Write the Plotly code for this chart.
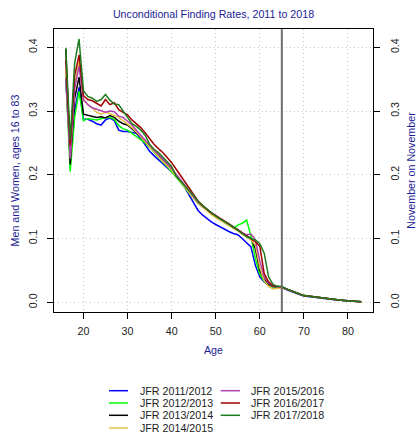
import plotly.graph_objects as go

# ---------------- data ----------------
ages = list(range(16, 84))

series_names = ["JFR 2011/2012", "JFR 2012/2013", "JFR 2013/2014", "JFR 2014/2015",
                "JFR 2015/2016", "JFR 2016/2017", "JFR 2017/2018"]

jfr_2011_2012 = [
    0.350, 0.230, 0.300, 0.337, 0.287, 0.287, 0.284, 0.280, 0.278, 0.286,
    0.289, 0.285, 0.270, 0.268, 0.268, 0.266, 0.265, 0.257, 0.247, 0.237,
    0.230, 0.224, 0.218, 0.211, 0.205, 0.198, 0.190, 0.180, 0.168, 0.156,
    0.144, 0.137, 0.131, 0.126, 0.122, 0.118, 0.114, 0.111, 0.108, 0.106,
    0.100, 0.094, 0.087, 0.058, 0.040, 0.032, 0.027, 0.024, 0.023, 0.023,
    0.020, 0.017, 0.015, 0.012, 0.010, 0.009, 0.008, 0.007, 0.006, 0.0055,
    0.005, 0.004, 0.0035, 0.003, 0.0024, 0.0018, 0.0012, 0.0008]

jfr_2012_2013 = [
    0.355, 0.205, 0.290, 0.331, 0.285, 0.288, 0.287, 0.286, 0.288, 0.290,
    0.290, 0.287, 0.277, 0.272, 0.270, 0.265, 0.260, 0.255, 0.250, 0.243,
    0.235, 0.228, 0.220, 0.213, 0.205, 0.197, 0.189, 0.180, 0.171, 0.163,
    0.155, 0.150, 0.144, 0.139, 0.134, 0.130, 0.126, 0.121, 0.116, 0.121,
    0.124, 0.129, 0.104, 0.068, 0.044, 0.033, 0.027, 0.024, 0.024, 0.024,
    0.021, 0.018, 0.015, 0.013, 0.0105, 0.0095, 0.0085, 0.0075, 0.0065, 0.0058,
    0.005, 0.0043, 0.0036, 0.003, 0.0024, 0.0018, 0.0012, 0.0008]

jfr_2013_2014 = [
    0.398, 0.216, 0.320, 0.353, 0.295, 0.293, 0.292, 0.290, 0.291, 0.289,
    0.293, 0.290, 0.284, 0.280, 0.278, 0.272, 0.266, 0.260, 0.252, 0.245,
    0.238, 0.231, 0.224, 0.216, 0.209, 0.200, 0.191, 0.182, 0.173, 0.165,
    0.157, 0.150, 0.145, 0.140, 0.135, 0.131, 0.127, 0.123, 0.119, 0.114,
    0.109, 0.104, 0.100, 0.084, 0.050, 0.036, 0.028, 0.025, 0.024, 0.024,
    0.021, 0.018, 0.015, 0.013, 0.0105, 0.0095, 0.0085, 0.0075, 0.0065, 0.0058,
    0.005, 0.0043, 0.0036, 0.003, 0.0024, 0.0018, 0.0012, 0.0008]

jfr_2014_2015 = [
    0.365, 0.228, 0.340, 0.378, 0.317, 0.310, 0.305, 0.298, 0.295, 0.298,
    0.296, 0.293, 0.290, 0.285, 0.280, 0.274, 0.267, 0.260, 0.252, 0.244,
    0.236, 0.228, 0.221, 0.214, 0.207, 0.198, 0.189, 0.180, 0.171, 0.163,
    0.155, 0.149, 0.143, 0.138, 0.133, 0.129, 0.125, 0.121, 0.117, 0.112,
    0.107, 0.103, 0.098, 0.090, 0.055, 0.034, 0.025, 0.021, 0.022, 0.023,
    0.021, 0.018, 0.015, 0.013, 0.0105, 0.0095, 0.0085, 0.0075, 0.0065, 0.0058,
    0.005, 0.0043, 0.0036, 0.003, 0.0024, 0.0018, 0.0012, 0.0008]

jfr_2015_2016 = [
    0.352, 0.225, 0.335, 0.370, 0.318, 0.310, 0.305, 0.303, 0.300, 0.298,
    0.300, 0.299, 0.292, 0.290, 0.284, 0.278, 0.270, 0.262, 0.255, 0.247,
    0.239, 0.232, 0.225, 0.218, 0.210, 0.201, 0.192, 0.183, 0.174, 0.165,
    0.157, 0.151, 0.146, 0.140, 0.135, 0.131, 0.127, 0.123, 0.118, 0.113,
    0.108, 0.106, 0.107, 0.098, 0.065, 0.040, 0.030, 0.025, 0.024, 0.024,
    0.021, 0.018, 0.015, 0.013, 0.0105, 0.0095, 0.0085, 0.0075, 0.0065, 0.0058,
    0.005, 0.0043, 0.0036, 0.003, 0.0024, 0.0018, 0.0012, 0.0008]

jfr_2016_2017 = [
    0.380, 0.246, 0.355, 0.388, 0.324, 0.318, 0.316, 0.312, 0.308, 0.318,
    0.310, 0.313, 0.302, 0.298, 0.294, 0.286, 0.280, 0.274, 0.266, 0.256,
    0.248, 0.241, 0.235, 0.227, 0.219, 0.209, 0.199, 0.189, 0.179, 0.169,
    0.159, 0.152, 0.146, 0.140, 0.136, 0.132, 0.127, 0.123, 0.118, 0.114,
    0.109, 0.104, 0.100, 0.095, 0.088, 0.045, 0.032, 0.026, 0.025, 0.024,
    0.021, 0.018, 0.015, 0.013, 0.0105, 0.0095, 0.0085, 0.0075, 0.0065, 0.0058,
    0.005, 0.0043, 0.0036, 0.003, 0.0024, 0.0018, 0.0012, 0.0008]

jfr_2017_2018 = [
    0.398, 0.255, 0.375, 0.413, 0.332, 0.323, 0.320, 0.315, 0.318, 0.326,
    0.317, 0.311, 0.310, 0.300, 0.291, 0.280, 0.276, 0.270, 0.262, 0.248,
    0.240, 0.235, 0.228, 0.220, 0.213, 0.198, 0.190, 0.182, 0.175, 0.168,
    0.158, 0.152, 0.146, 0.140, 0.135, 0.131, 0.127, 0.123, 0.118, 0.113,
    0.108, 0.103, 0.100, 0.098, 0.092, 0.077, 0.040, 0.028, 0.025, 0.025,
    0.021, 0.018, 0.015, 0.013, 0.0105, 0.0095, 0.0085, 0.0075, 0.0065, 0.0058,
    0.005, 0.0043, 0.0036, 0.003, 0.0024, 0.0018, 0.0012, 0.0008]

series_values = [jfr_2011_2012, jfr_2012_2013, jfr_2013_2014, jfr_2014_2015,
                 jfr_2015_2016, jfr_2016_2017, jfr_2017_2018]

x_ticks = [20, 30, 40, 50, 60, 70, 80]
y_ticks = [0.0, 0.1, 0.2, 0.3, 0.4]
y_tick_labels = ["0.0", "0.1", "0.2", "0.3", "0.4"]
retirement_age = 65

# ---------------- style ----------------
colors = ["#0000ff", "#00ff00", "#000000", "#e3c244", "#b040b0", "#a00000", "#1e7b1e"]
title_color = "#1c1c96"
FONT = "Liberation Sans, Arial, Helvetica, sans-serif"
FS = 10.7

W, H = 417, 438
ML, MR, MT, MB = 54, 44, 29, 126
PW, PH = W - ML - MR, H - MT - MB

xr = [13.32, 85.68]
yr = [-0.0152, 0.4286]


def px_x(px):
    return (px - ML) / PW


def px_y(py):
    return (H - MB - py) / PH


fig = go.Figure()
for name, vals, col in zip(series_names, series_values, colors):
    fig.add_trace(go.Scatter(x=ages, y=vals, mode="lines", name=name,
                             line=dict(color=col, width=1.5), showlegend=False))

# invisible trace so the right-hand axis is drawn
fig.add_trace(go.Scatter(x=ages, y=jfr_2017_2018, yaxis="y2", mode="lines",
                         line=dict(width=0, color="rgba(0,0,0,0)"), opacity=0,
                         showlegend=False, hoverinfo="skip"))

fig.add_shape(type="line", x0=retirement_age, x1=retirement_age, xref="x",
              y0=0, y1=1, yref="paper", line=dict(color="#6e6e6e", width=2))

# manual legend (two columns)
row_y = [390.7, 403.0, 415.3, 428.0]
cols = [(109, 128, 137.7), (220.7, 240, 249)]
for i, (name, col) in enumerate(zip(series_names, colors)):
    c = 0 if i < 4 else 1
    r = i if i < 4 else i - 4
    lx0, lx1, tx = cols[c]
    yy = px_y(row_y[r])
    fig.add_shape(type="line", xref="paper", yref="paper",
                  x0=px_x(lx0), x1=px_x(lx1), y0=yy, y1=yy,
                  line=dict(color=col, width=1.5))
    fig.add_annotation(text=name, xref="paper", yref="paper", x=px_x(tx), y=yy,
                       xanchor="left", yanchor="middle", showarrow=False,
                       font=dict(family=FONT, size=FS, color="#222222"))

axis_common = dict(
    ticks="outside", ticklen=6, tickcolor="#000000", tickwidth=1,
    showline=True, linecolor="#000000", linewidth=1,
    tickfont=dict(family=FONT, size=FS, color="#222222"),
    zeroline=False,
)
grid = dict(showgrid=True, gridcolor="#c8c8c8", griddash="1px,3px", gridwidth=1)

fig.update_layout(
    width=W, height=H,
    margin=dict(l=ML, r=MR, t=MT, b=MB, autoexpand=False),
    paper_bgcolor="white", plot_bgcolor="white",
    font=dict(family=FONT, size=FS, color="#222222"),
    title=dict(text="Unconditional Finding Rates, 2011 to 2018",
               x=(ML + PW / 2) / W, xanchor="center", xref="container",
               y=1 - 14 / H, yanchor="middle", yref="container",
               font=dict(family=FONT, size=FS, color=title_color)),
    xaxis=dict(range=xr, tickvals=x_ticks, mirror=True, **grid,
               title=dict(text="Age", standoff=10,
                          font=dict(family=FONT, size=FS, color=title_color)),
               ticklabelstandoff=3,
               **axis_common),
    yaxis=dict(range=yr, tickvals=y_ticks, ticktext=y_tick_labels, tickangle=-90,
               mirror=True, **grid,
               title=dict(text="Men and Women, ages 16 to 83", standoff=4,
                          font=dict(family=FONT, size=FS, color=title_color)),
               ticklabelstandoff=6,
               **axis_common),
    yaxis2=dict(range=yr, tickvals=y_ticks, ticktext=y_tick_labels, tickangle=-90,
                overlaying="y", side="right", showgrid=False,
                title=dict(text="November on November", standoff=7,
                           font=dict(family=FONT, size=FS, color=title_color)),
                ticklabelstandoff=6,
                **axis_common),
    showlegend=False,
)

fig.write_html("out.html")
